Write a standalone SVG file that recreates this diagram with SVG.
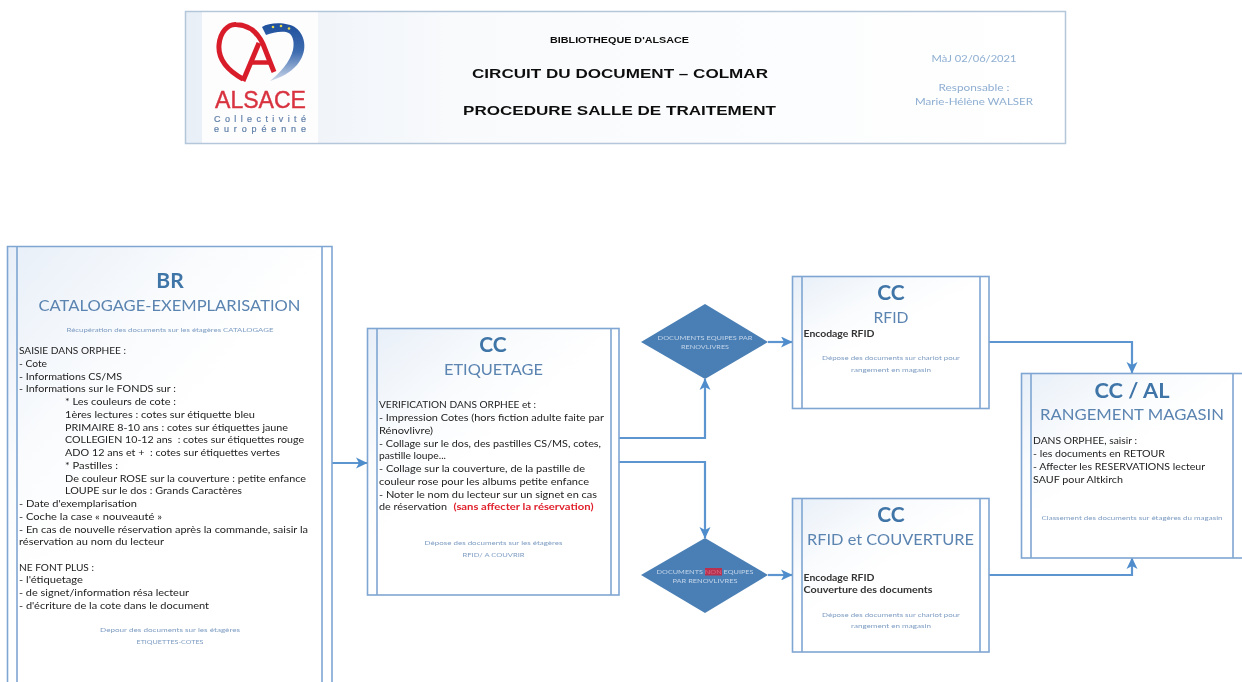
<svg xmlns="http://www.w3.org/2000/svg" width="1242" height="682" viewBox="0 0 1242 682">
<style>
text{font-family:Lato,"Open Sans","Liberation Sans",sans-serif}
g{filter:url(#soft)}
.box{fill:url(#boxfill);stroke:#7fa6d2;stroke-width:1.6}
.inner{stroke:#7fa6d2;stroke-width:1.6;fill:none}
.t1{fill:#3f74a8;font-weight:700;text-anchor:middle;font-size:21px}
.t2{fill:#5b84b1;text-anchor:middle;font-size:15.7px}
.small{fill:#7d9cc2;font-size:6px;text-anchor:middle}
.body{fill:#222;font-size:9.7px}
.strong{font-weight:700;fill:#333}
.head{font-family:"Liberation Sans",Arial,sans-serif;font-weight:700;fill:#111;text-anchor:middle}
.meta{fill:#8eaed2;font-size:10px;text-anchor:middle}
.dia{fill:#4a7fb5}
.dt{fill:#c3d5e9;font-size:6.2px;text-anchor:middle}
.conn{fill:none;stroke:#5b95d0;stroke-width:2.2;marker-end:url(#arr)}
.logo{font-family:"Liberation Sans",Arial,sans-serif}
</style>
<defs>
<filter id="soft" x="-2%" y="-2%" width="104%" height="104%"><feGaussianBlur stdDeviation="0.4"/></filter>
<linearGradient id="boxfill" x1="0" y1="0" x2="0.4" y2="0.5"><stop offset="0" stop-color="#e8eff8"/><stop offset="0.6" stop-color="#f9fbfd"/><stop offset="1" stop-color="#ffffff"/></linearGradient>
<linearGradient id="headfill" x1="0" y1="0" x2="1" y2="0"><stop offset="0" stop-color="#e9eff7"/><stop offset="0.3" stop-color="#f8fafc"/><stop offset="1" stop-color="#ffffff"/></linearGradient>
<linearGradient id="arc" x1="0" y1="0" x2="0" y2="1"><stop offset="0" stop-color="#1f4f9c"/><stop offset="0.5" stop-color="#3f6db0"/><stop offset="1" stop-color="#cdd8ea"/></linearGradient>
<marker id="arr" markerUnits="userSpaceOnUse" markerWidth="13" markerHeight="12" refX="11" refY="6" orient="auto"><path d="M0 0.500L11.500 6L0 11.500L3 6Z" fill="#4f8ccb"/></marker>
</defs>
<rect width="1242" height="682" fill="#ffffff"/>

<g id="header">
<rect x="185.500" y="11.500" width="880" height="132" fill="url(#headfill)" stroke="#b4c6da" stroke-width="1.5"/>
<rect x="202" y="12.500" width="116" height="130" fill="#fdfdfe"/>
<path d="M243 79C227 70 218 58 219 45C220 32 228 24 236 24.500C249 25 258 33 263 44L274 72" fill="none" stroke="#d81e2c" stroke-width="5"/>
<path d="M243 81L259 43" fill="none" stroke="#d81e2c" stroke-width="5"/>
<path d="M250 62.500H272" fill="none" stroke="#d81e2c" stroke-width="4.500"/>
<path d="M262 27C270 22 288 22 296 28C306 36 308 52 297 65C290 73 280 78 270 81C280 73 290 62 293 50C295 40 292 33 286 32C279 31 272 33 266 35Z" fill="url(#arc)"/>
<circle cx="273" cy="27" r="1.300" fill="#e6d94a"/><circle cx="281" cy="26" r="1.300" fill="#e6d94a"/><circle cx="289" cy="28.500" r="1.300" fill="#e6d94a"/>
<text class="logo" x="215" y="108.400" font-size="24" fill="#d8323f" stroke="#d8323f" stroke-width="0.400" textLength="91" lengthAdjust="spacingAndGlyphs">ALSACE</text>
<text class="logo" x="214" y="121.700" font-size="9" fill="#5f7fa8" stroke="#5f7fa8" stroke-width="0.200" textLength="92">Collectivité</text>
<text class="logo" x="214" y="132.200" font-size="9" fill="#5f7fa8" stroke="#5f7fa8" stroke-width="0.200" textLength="92">européenne</text>
<text class="head" x="619.500" y="43" font-size="8.500" textLength="139" lengthAdjust="spacingAndGlyphs">BIBLIOTHEQUE D'ALSACE</text>
<text class="head" x="620" y="78" font-size="12.500" textLength="296" lengthAdjust="spacingAndGlyphs">CIRCUIT DU DOCUMENT – COLMAR</text>
<text class="head" x="619.500" y="115" font-size="12.500" textLength="313" lengthAdjust="spacingAndGlyphs">PROCEDURE SALLE DE TRAITEMENT</text>
<text class="meta" x="974" y="62" textLength="85" lengthAdjust="spacingAndGlyphs">MàJ 02/06/2021</text>
<text class="meta" x="974" y="91" textLength="71" lengthAdjust="spacingAndGlyphs">Responsable :</text>
<text class="meta" x="974" y="105" textLength="118" lengthAdjust="spacingAndGlyphs">Marie-Hélène WALSER</text>
</g>

<g id="connectors">
<path class="conn" d="M332 463H367"/>
<path class="conn" d="M619 438H705V379"/>
<path class="conn" d="M619 462H705V538"/>
<path class="conn" d="M768 342H792"/>
<path class="conn" d="M768 575H792"/>
<path class="conn" d="M989 342H1132V373"/>
<path class="conn" d="M989 575H1132V558"/>
</g>

<g id="node-br">
<path class="box" d="M7.500 246.500H332V690H7.500Z"/>
<path class="inner" d="M17 246.500V690M322 246.500V690"/>
<text class="t1" x="170" y="288">BR</text>
<text class="t2" x="169.500" y="311" textLength="262" lengthAdjust="spacingAndGlyphs">CATALOGAGE-EXEMPLARISATION</text>
<text class="small" x="170" y="332" textLength="207" lengthAdjust="spacingAndGlyphs">Récupération des documents sur les étagères CATALOGAGE</text>
<text class="body" x="19" y="354" textLength="107" lengthAdjust="spacingAndGlyphs">SAISIE DANS ORPHEE :</text>
<text class="body" x="19" y="367" textLength="28" lengthAdjust="spacingAndGlyphs">- Cote</text>
<text class="body" x="19" y="379.500" textLength="103" lengthAdjust="spacingAndGlyphs">- Informations CS/MS</text>
<text class="body" x="19" y="392" textLength="157" lengthAdjust="spacingAndGlyphs">- Informations sur le FONDS sur :</text>
<text class="body" x="65" y="405" textLength="111" lengthAdjust="spacingAndGlyphs">* Les couleurs de cote :</text>
<text class="body" x="65" y="418" textLength="190" lengthAdjust="spacingAndGlyphs">1ères lectures : cotes sur étiquette bleu</text>
<text class="body" x="65" y="430.500" textLength="223" lengthAdjust="spacingAndGlyphs">PRIMAIRE 8-10 ans : cotes sur étiquettes jaune</text>
<text class="body" x="65" y="443" textLength="239" lengthAdjust="spacingAndGlyphs" xml:space="preserve">COLLEGIEN 10-12 ans  : cotes sur étiquettes rouge</text>
<text class="body" x="65" y="456" textLength="215" lengthAdjust="spacingAndGlyphs" xml:space="preserve">ADO 12 ans et +  : cotes sur étiquettes vertes</text>
<text class="body" x="65" y="468.500" textLength="53" lengthAdjust="spacingAndGlyphs">* Pastilles :</text>
<text class="body" x="65" y="481.500" textLength="241" lengthAdjust="spacingAndGlyphs">De couleur ROSE sur la couverture : petite enfance</text>
<text class="body" x="65" y="494" textLength="177" lengthAdjust="spacingAndGlyphs">LOUPE sur le dos : Grands Caractères</text>
<text class="body" x="19" y="507" textLength="118" lengthAdjust="spacingAndGlyphs">- Date d'exemplarisation</text>
<text class="body" x="19" y="519.500" textLength="143" lengthAdjust="spacingAndGlyphs">- Coche la case « nouveauté »</text>
<text class="body" x="19" y="532.500" textLength="289" lengthAdjust="spacingAndGlyphs">- En cas de nouvelle réservation après la commande, saisir la</text>
<text class="body" x="19" y="545" textLength="145" lengthAdjust="spacingAndGlyphs">réservation au nom du lecteur</text>
<text class="body" x="19" y="570.500" textLength="75" lengthAdjust="spacingAndGlyphs">NE FONT PLUS :</text>
<text class="body" x="19" y="583" textLength="64" lengthAdjust="spacingAndGlyphs">- l'étiquetage</text>
<text class="body" x="19" y="596" textLength="170" lengthAdjust="spacingAndGlyphs">- de signet/information résa lecteur</text>
<text class="body" x="19" y="608.500" textLength="190" lengthAdjust="spacingAndGlyphs">- d'écriture de la cote dans le document</text>
<text class="small" x="170" y="632" textLength="140" lengthAdjust="spacingAndGlyphs">Depour  des documents sur les étagères</text>
<text class="small" x="170" y="643.500" textLength="67" lengthAdjust="spacingAndGlyphs">ETIQUETTES-COTES</text>
</g>

<g id="node-etiquetage">
<rect class="box" x="367.500" y="328.500" width="251.500" height="266.500"/>
<path class="inner" d="M377 328.500V595M611 328.500V595"/>
<text class="t1" x="493" y="352">CC</text>
<text class="t2" x="493.500" y="375" textLength="99" lengthAdjust="spacingAndGlyphs">ETIQUETAGE</text>
<text class="body" x="379" y="408" textLength="157" lengthAdjust="spacingAndGlyphs">VERIFICATION DANS ORPHEE et :</text>
<text class="body" x="379" y="421" textLength="225" lengthAdjust="spacingAndGlyphs">- Impression Cotes (hors fiction adulte faite par</text>
<text class="body" x="379" y="433.500" textLength="54" lengthAdjust="spacingAndGlyphs">Rénovlivre)</text>
<text class="body" x="379" y="446.500" textLength="222" lengthAdjust="spacingAndGlyphs">- Collage sur le dos, des pastilles CS/MS, cotes,</text>
<text class="body" x="379" y="459" textLength="67" lengthAdjust="spacingAndGlyphs">pastille loupe...</text>
<text class="body" x="379" y="472" textLength="206" lengthAdjust="spacingAndGlyphs">- Collage sur la couverture, de la pastille de</text>
<text class="body" x="379" y="484.500" textLength="210" lengthAdjust="spacingAndGlyphs">couleur rose pour les albums petite enfance</text>
<text class="body" x="379" y="497.500" textLength="218" lengthAdjust="spacingAndGlyphs">- Noter le nom du lecteur sur un signet en cas</text>
<text class="body" x="379" y="510" textLength="68" lengthAdjust="spacingAndGlyphs">de réservation</text>
<text x="453.500" y="510" font-size="9.700" font-weight="700" fill="#e0202c" textLength="140" lengthAdjust="spacingAndGlyphs">(sans affecter la réservation)</text>
<text class="small" x="493.500" y="545" textLength="138" lengthAdjust="spacingAndGlyphs">Dépose des documents sur les étagères</text>
<text class="small" x="493.500" y="557" textLength="62" lengthAdjust="spacingAndGlyphs">RFID/ A COUVRIR</text>
</g>

<g id="decision-renovlivres">
<polygon class="dia" points="705,304 768,342 705,379 641,342"/>
<text class="dt" x="705" y="340" textLength="95" lengthAdjust="spacingAndGlyphs">DOCUMENTS EQUIPES PAR</text>
<text class="dt" x="705" y="349" textLength="48" lengthAdjust="spacingAndGlyphs">RENOVLIVRES</text>
</g>

<g id="decision-non-renovlivres">
<polygon class="dia" points="705,538 768,575 705,613 641,575"/>
<rect x="705" y="568" width="17" height="7.500" fill="#b8304f"/>
<text class="dt" x="705" y="574" textLength="97" lengthAdjust="spacingAndGlyphs">DOCUMENTS <tspan fill="#d96a80">NON</tspan> EQUIPES</text>
<text class="dt" x="705" y="583" textLength="65" lengthAdjust="spacingAndGlyphs">PAR RENOVLIVRES</text>
</g>

<g id="node-rfid">
<rect class="box" x="792.500" y="276.500" width="196.500" height="132"/>
<path class="inner" d="M802 276.500V408M980 276.500V408"/>
<text class="t1" x="891" y="300">CC</text>
<text class="t2" x="891" y="323" textLength="35" lengthAdjust="spacingAndGlyphs">RFID</text>
<text class="body strong" x="803.500" y="337" textLength="71" lengthAdjust="spacingAndGlyphs">Encodage RFID</text>
<text class="small" x="891" y="360" textLength="138" lengthAdjust="spacingAndGlyphs">Dépose des documents sur chariot pour</text>
<text class="small" x="891" y="371.500" textLength="80" lengthAdjust="spacingAndGlyphs">rangement en magasin</text>
</g>

<g id="node-rfid-couverture">
<rect class="box" x="792.500" y="498.500" width="196.500" height="153.500"/>
<path class="inner" d="M802 498.500V652M980 498.500V652"/>
<text class="t1" x="891" y="522">CC</text>
<text class="t2" x="890.500" y="545" textLength="167" lengthAdjust="spacingAndGlyphs">RFID et COUVERTURE</text>
<text class="body strong" x="803.500" y="580.500" textLength="71" lengthAdjust="spacingAndGlyphs">Encodage RFID</text>
<text class="body strong" x="803.500" y="593" textLength="129" lengthAdjust="spacingAndGlyphs">Couverture des documents</text>
<text class="small" x="891" y="616.500" textLength="138" lengthAdjust="spacingAndGlyphs">Dépose des documents sur chariot pour</text>
<text class="small" x="891" y="628" textLength="80" lengthAdjust="spacingAndGlyphs">rangement en magasin</text>
</g>

<g id="node-rangement">
<rect class="box" x="1021.500" y="373.500" width="222" height="184.500"/>
<path class="inner" d="M1031 373.500V558M1233 373.500V558"/>
<text class="t1" x="1132" y="398" textLength="75" lengthAdjust="spacingAndGlyphs">CC / AL</text>
<text class="t2" x="1132" y="420" textLength="184" lengthAdjust="spacingAndGlyphs">RANGEMENT MAGASIN</text>
<text class="body" x="1033" y="444" textLength="104" lengthAdjust="spacingAndGlyphs">DANS ORPHEE, saisir :</text>
<text class="body" x="1033" y="457" textLength="132" lengthAdjust="spacingAndGlyphs">- les documents en RETOUR</text>
<text class="body" x="1033" y="470" textLength="172" lengthAdjust="spacingAndGlyphs">- Affecter les RESERVATIONS lecteur</text>
<text class="body" x="1033" y="483" textLength="90" lengthAdjust="spacingAndGlyphs">SAUF pour Altkirch</text>
<text class="small" x="1132" y="520" textLength="181" lengthAdjust="spacingAndGlyphs">Classement des documents sur étagères du magasin</text>
</g>
</svg>
